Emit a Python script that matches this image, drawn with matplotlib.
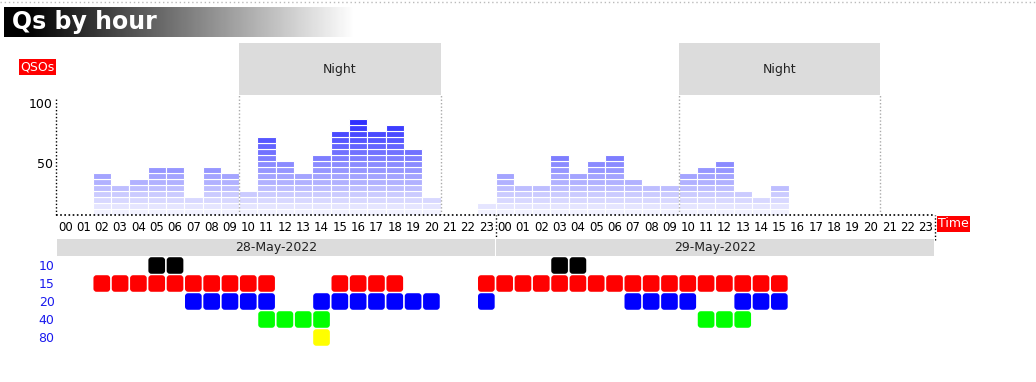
import numpy as np
import matplotlib
matplotlib.use("Agg")
import matplotlib.pyplot as plt
from matplotlib.patches import Rectangle, FancyBboxPatch
from matplotlib.colors import LinearSegmentedColormap
from matplotlib.lines import Line2D
import matplotlib.transforms as mtransforms

W, H = 1036, 382

# QSOs per hour (one bar segment = 5 QSOs)
qsos_day1 = [0, 0, 35, 25, 30, 40, 40, 15, 40, 35, 20, 65,
             45, 35, 50, 70, 80, 70, 75, 55, 15, 0, 0, 10]
qsos_day2 = [35, 25, 25, 50, 35, 45, 50, 30, 25, 25, 35, 40,
             45, 20, 15, 25, 0, 0, 0, 0, 0, 0, 0, 0]
days = ["28-May-2022", "29-May-2022"]
hour_labels = ["%02d" % h for h in range(24)] * 2
night_start = [10, 34]
night_len = 11

bands = ["10", "15", "20", "40", "80"]
band_colors = ["black", "#ff0000", "#0000ff", "#00ff00", "#ffff00"]
# hours (0-47 over both days) with activity on each band
band10_hours = [5, 6, 27, 28]
band15_hours = [2, 3, 4, 5, 6, 7, 8, 9, 10, 11, 15, 16, 17, 18, 23,
                24, 25, 26, 27, 28, 29, 30, 31, 32, 33, 34, 35, 36, 37, 38, 39]
band20_hours = [7, 8, 9, 10, 11, 14, 15, 16, 17, 18, 19, 20, 23,
                31, 32, 33, 34, 37, 38, 39]
band40_hours = [11, 12, 13, 14, 35, 36, 37]
band80_hours = [14]
band_hours = [band10_hours, band15_hours, band20_hours, band40_hours, band80_hours]

seg = 5
qsos = np.array(qsos_day1 + qsos_day2)
nseg = qsos // seg
x = np.arange(len(qsos))

fig = plt.figure(figsize=(W / 100, H / 100), dpi=100)
fig.patch.set_facecolor("white")

def px_axes(l, t, r, b):
    return fig.add_axes([l / W, 1 - b / H, (r - l) / W, (b - t) / H])

# top dotted line
fig.add_artist(Line2D([0, 1], [1 - 1.5 / H, 1 - 1.5 / H], transform=fig.transFigure,
                      color="#bbbbbb", lw=1, ls=(0, (1, 2))))

# title banner
tax = px_axes(4, 7, 355, 37)
grad = np.clip((np.linspace(0, 1, 300) - 0.06) / 0.94, 0, 1)
tax.imshow(grad[None, :], cmap="gray", aspect="auto", vmin=0, vmax=1,
           extent=[0, 1, 0, 1])
tax.set_axis_off()
tax.text(0.024, 0.5, "Qs by hour", color="white", fontsize=17, fontweight="bold",
         va="center", ha="left", transform=tax.transAxes)

# bar chart
base_y, top_y = 214.5, 43
ax = px_axes(56, top_y, 935, base_y)
ax.set_xlim(0, 48)
ax.set_ylim(0, (base_y - top_y) / 1.2)
for s in ax.spines.values():
    s.set_visible(False)

cmap = LinearSegmentedColormap.from_list("seg", ["#f2f2ff", "#3030ff"])
maxseg = nseg.max()
for k in range(maxseg):
    m = nseg > k
    ax.bar(x[m] + 0.5, seg, bottom=seg * k, width=1,
           color=cmap(k / (maxseg - 1)), edgecolor="white", linewidth=0.8)

blend = mtransforms.blended_transform_factory(ax.transData, ax.transAxes)
night_bottom = (base_y - 95) / (base_y - top_y)
night_text_y = (base_y - 70) / (base_y - top_y)
for ns in night_start:
    ax.add_patch(Rectangle((ns, night_bottom), night_len, 1 - night_bottom,
                           transform=blend, facecolor="#dcdcdc", edgecolor="none",
                           clip_on=False))
    ax.text(ns + night_len / 2, night_text_y, "Night", transform=blend,
            ha="center", va="center", fontsize=9, color="#222222")
    for xv in (ns, ns + night_len):
        ax.axvline(xv, 0, night_bottom, color="#aaaaaa", lw=1, ls=(0, (1, 1.5)))

ax.axvline(0, 0, (base_y - 97) / (base_y - top_y), color="black", lw=1,
           ls=(0, (1, 1.5)), clip_on=False)
ax.axhline(0, color="black", lw=1.2, ls=(0, (1, 1.5)), clip_on=False)
below = -(240 - base_y) / (base_y - top_y)
for xv in (24, 48):
    ax.axvline(xv, below, 0, color="black", lw=1, ls=(0, (1, 1.5)), clip_on=False)

ax.set_xticks(x + 0.5)
ax.set_xticklabels(hour_labels, fontsize=8.5)
ax.tick_params(axis="x", length=0, pad=5)
ax.set_yticks([])

# value labels (drawn a little below their tick value, as in the original)
lab_tr = mtransforms.blended_transform_factory(ax.transAxes, ax.transData) + \
    mtransforms.ScaledTranslation(-3 / 100, -10 / 100, fig.dpi_scale_trans)
for v in (50, 100):
    ax.text(0, v, str(v), transform=lab_tr, ha="right", va="center", fontsize=9)

fig.text(37.5 / W, 1 - 66.5 / H, "QSOs", color="white", fontsize=9,
         ha="center", va="center",
         bbox=dict(boxstyle="square,pad=0.12", facecolor="red", edgecolor="none"))
fig.text(953.5 / W, 1 - 224 / H, "Time", color="white", fontsize=9,
         ha="center", va="center",
         bbox=dict(boxstyle="square,pad=0.1", facecolor="red", edgecolor="none"))

# band activity grid
bx = px_axes(56, 238.5, 935, 346.5)
bx.set_xlim(0, 48)
bx.set_ylim(6, 0)
for s in bx.spines.values():
    s.set_visible(False)
bx.set_xticks([])
bx.set_yticks(np.arange(1, 6) + 0.5)
bx.set_yticklabels(bands, fontsize=9, color="#1a1aee")
bx.tick_params(axis="y", length=0, pad=1)

for d, day in enumerate(days):
    bx.add_patch(Rectangle((d * 24 + 0.05, 0.03), 23.9, 0.94,
                           facecolor="#dcdcdc", edgecolor="none"))
    bx.text(d * 24 + 12, 0.5, day, ha="center", va="center", fontsize=9,
            color="#222222")

for i, hrs in enumerate(band_hours):
    for h in hrs:
        bx.add_patch(FancyBboxPatch((h + 0.045, i + 1 + 0.04), 0.91, 0.92,
                                    boxstyle="round,pad=0,rounding_size=0.17",
                                    facecolor=band_colors[i], edgecolor="none"))

fig.savefig("out.png", dpi=100)
